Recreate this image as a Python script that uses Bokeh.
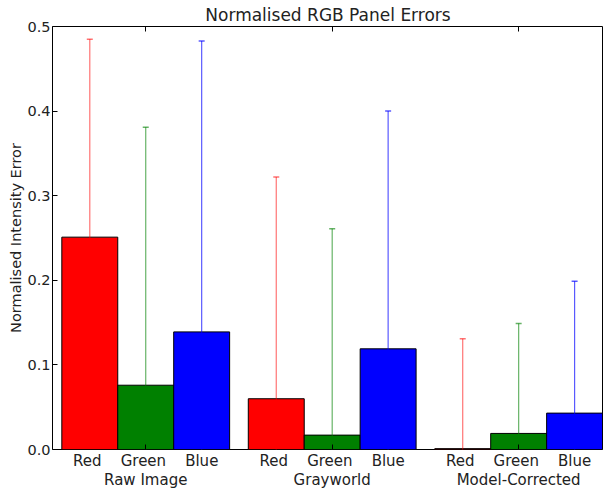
from bokeh.plotting import figure
from bokeh.models import (ColumnDataSource, FixedTicker, LinearAxis, NumeralTickFormatter,
                          Range1d, Title)
from bokeh.embed import file_html
from bokeh.resources import INLINE

groups = ["Raw Image", "Grayworld", "Model-Corrected"]
channels = ["Red", "Green", "Blue"]
red_vals = [0.251, 0.060, 0.001]
green_vals = [0.076, 0.017, 0.019]
blue_vals = [0.139, 0.119, 0.043]
red_err = [0.234, 0.262, 0.130]
green_err = [0.305, 0.244, 0.130]
blue_err = [0.344, 0.281, 0.156]
y_ticks = [0.0, 0.1, 0.2, 0.3, 0.4, 0.5]

FONT = "DejaVu Sans"
BAR_W = 0.3
fills = ["#ff0000", "#008000", "#0000ff"]
ealphas = [0.55, 0.6, 0.65]
NBSP = "\u00a0"
group_pads = [7, 7, 2]   # non-breaking spaces used to centre each group name under its row

p = figure(width=603, height=492, output_backend="svg", toolbar_location=None,
           x_range=Range1d(-0.05, 2.905), y_range=Range1d(0, 0.5),
           x_axis_type=None, y_axis_type=None,
           min_border_left=52, min_border_right=0, min_border_top=22, min_border_bottom=0)
p.background_fill_color = "white"
p.border_fill_color = "white"
p.outline_line_color = "black"
p.outline_line_width = 1
p.xgrid.visible = False
p.ygrid.visible = False

vals = [red_vals, green_vals, blue_vals]
errs = [red_err, green_err, blue_err]
for j in range(3):
    xs = [i + BAR_W * j + BAR_W / 2 for i in range(len(groups))]
    src = ColumnDataSource(dict(
        x=xs, top=vals[j],
        lo=[v - e for v, e in zip(vals[j], errs[j])],
        hi=[v + e for v, e in zip(vals[j], errs[j])]))
    p.vbar(x="x", top="top", bottom=0, width=BAR_W, source=src,
           fill_color=fills[j], line_color="black", line_width=1)
    p.segment(x0="x", y0="lo", x1="x", y1="hi", source=src,
              line_color=fills[j], line_alpha=ealphas[j], line_width=1.2)
    p.scatter(x="x", y="hi", source=src, marker="dash", size=6,
              line_color=fills[j], line_alpha=ealphas[j], line_width=1.5)
    p.scatter(x="x", y="lo", source=src, marker="dash", size=6,
              line_color=fills[j], line_alpha=ealphas[j], line_width=1.5)

group_centers = [i + 1.5 * BAR_W for i in range(len(groups))]

# left axis
yax = LinearAxis(ticker=FixedTicker(ticks=y_ticks),
                 formatter=NumeralTickFormatter(format="0.0"),
                 axis_label="Normalised Intensity Error")
yax.axis_line_color = None
yax.major_tick_in = 5
yax.major_tick_out = 0
yax.minor_tick_line_color = None
yax.major_label_standoff = 2
yax.axis_label_standoff = 0
yax.major_label_text_font = FONT
yax.major_label_text_font_size = "14.5px"
yax.major_label_text_color = "#222222"
yax.axis_label_text_font = FONT
yax.axis_label_text_font_size = "14.5px"
yax.axis_label_text_font_style = "normal"
yax.axis_label_text_color = "#222222"
p.add_layout(yax, "left")

# bottom axis: two-line labels at the group centres (channels, then group name)
line1 = (NBSP * 4).join(channels)
labels = {}
for k, gc in enumerate(group_centers):
    pad = NBSP * group_pads[k]
    labels[gc] = line1 + "\n" + pad + groups[k] + pad
xax = LinearAxis(ticker=FixedTicker(ticks=group_centers), major_label_overrides=labels)
xax.axis_line_color = None
xax.major_tick_in = 5
xax.major_tick_out = 0
xax.minor_tick_line_color = None
xax.major_label_standoff = 2
xax.major_label_text_font = FONT
xax.major_label_text_font_size = "15px"
xax.major_label_text_color = "#222222"
xax.major_label_text_line_height = 1.1
xax.axis_label_standoff = 0
xax.axis_label_text_font_size = "0px"
p.add_layout(xax, "below")

# top spine ticks
tax = LinearAxis(ticker=FixedTicker(ticks=group_centers),
                 major_label_overrides={gc: "" for gc in group_centers})
tax.axis_line_color = None
tax.major_tick_in = 5
tax.major_tick_out = 0
tax.minor_tick_line_color = None
tax.major_label_standoff = 0
tax.major_label_text_font_size = "0px"
tax.axis_label_standoff = 0
tax.axis_label_text_font_size = "0px"
p.add_layout(tax, "above")

p.title = Title(text="Normalised RGB Panel Errors", align="center",
                text_font=FONT, text_font_size="17px", text_font_style="normal",
                text_color="#222222", standoff=4)

open("out.html", "w").write(file_html(p, INLINE))
